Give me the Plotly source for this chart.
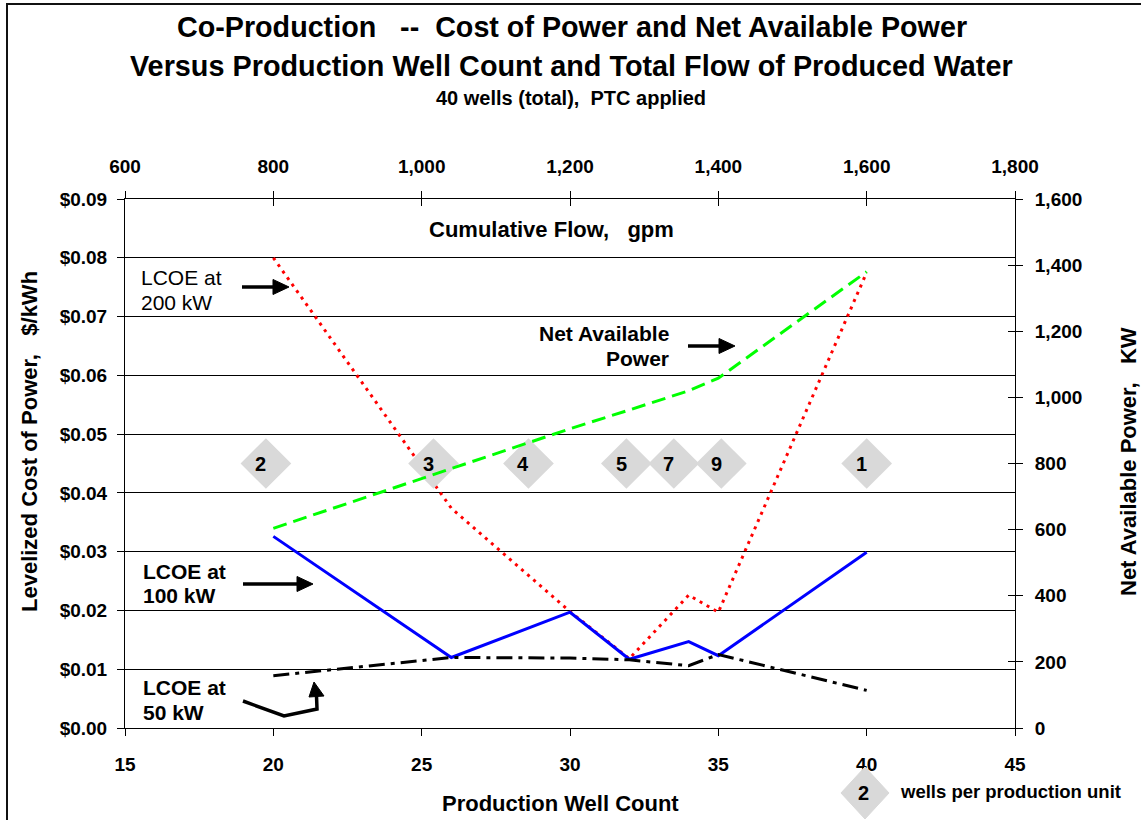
import plotly.graph_objects as go

# ---------------- data ----------------
well_count = [20, 26, 30, 32, 34, 35, 40]
cum_flow_gpm = [800, 1040, 1200, 1280, 1360, 1400, 1600]
lcoe_200kw = [0.0800, 0.0374, 0.0198, 0.0118, 0.0226, 0.0197, 0.0775]
lcoe_100kw = [0.0326, 0.0120, 0.0197, 0.0117, 0.0147, 0.0123, 0.0299]
lcoe_50kw = [0.0089, 0.0120, 0.0119, 0.0116, 0.0106, 0.0125, 0.0064]
net_power_kw = [604, 785, 905, 962, 1020, 1058, 1380]

unit_labels = ["2", "3", "4", "5", "7", "9", "1"]
unit_x = [19.75, 25.4, 28.6, 31.9, 33.5, 35.1, 40.0]
unit_y = [0.045, 0.045, 0.045, 0.045, 0.045, 0.045, 0.045]

# ---------------- layout helpers ----------------
W, H = 1141, 820
L, R, T, B = 125, 1015, 199, 728
FONT = "Liberation Sans, Arial, Helvetica, sans-serif"
NB = "\u00a0"


def px(x):
    return (x - L) / (R - L)


def py(y):
    return (B - y) / (B - T)


fig = go.Figure()

fig.add_trace(go.Scatter(x=well_count, y=lcoe_200kw, mode="lines",
                         line=dict(color="#FF0000", width=3, dash="3px,5px"),
                         name="LCOE at 200 kW", hoverinfo="x+y"))
fig.add_trace(go.Scatter(x=well_count, y=net_power_kw, mode="lines", yaxis="y2",
                         line=dict(color="#00FF00", width=3, dash="14px,7px"),
                         name="Net Available Power"))
fig.add_trace(go.Scatter(x=well_count, y=lcoe_100kw, mode="lines",
                         line=dict(color="#0000FF", width=3),
                         name="LCOE at 100 kW"))
fig.add_trace(go.Scatter(x=well_count, y=lcoe_50kw, mode="lines",
                         line=dict(color="#000000", width=3, dash="16px,6px,4px,6px"),
                         name="LCOE at 50 kW"))
fig.add_trace(go.Scatter(x=unit_x, y=unit_y, mode="markers",
                         marker=dict(symbol="diamond", size=39, color="#D9D9D9",
                                     line=dict(width=0)),
                         name="wells per production unit"))
# invisible trace defining the top (cumulative flow) axis
fig.add_trace(go.Scatter(x=cum_flow_gpm, y=[None] * len(cum_flow_gpm), xaxis="x2",
                         mode="markers", marker=dict(opacity=0), hoverinfo="skip",
                         showlegend=False))
# invisible traces for cross ticks
fig.add_trace(go.Scatter(x=cum_flow_gpm, y=[None] * len(cum_flow_gpm), xaxis="x3",
                         mode="markers", marker=dict(opacity=0), hoverinfo="skip",
                         showlegend=False))
fig.add_trace(go.Scatter(x=well_count, y=[None] * len(well_count), yaxis="y3",
                         mode="markers", marker=dict(opacity=0), hoverinfo="skip",
                         showlegend=False))

annotations = []
for xv, yv, lab in zip(unit_x, unit_y, unit_labels):
    annotations.append(dict(x=xv, y=yv, xref="x", yref="y", text=lab, showarrow=False,
                            xshift=-5, font=dict(family=FONT, size=20, color="black",
                                                 weight="bold")))


def text(x, y, s, size, bold=True, xanchor="left", angle=0):
    annotations.append(dict(x=px(x), y=py(y), xref="paper", yref="paper", text=s,
                            showarrow=False, xanchor=xanchor, yanchor="middle",
                            textangle=angle,
                            font=dict(family=FONT, size=size, color="black",
                                      weight="bold" if bold else "normal")))


# titles
text(572, 27, "Co-Production" + NB * 3 + "--" + NB * 2 + "Cost of Power and Net Available Power",
     28.7, xanchor="center")
text(571, 66, "Versus Production Well Count and Total Flow of Produced Water", 28.8,
     xanchor="center")
text(571, 98, "40 wells (total)," + NB * 2 + "PTC applied", 20, xanchor="center")

# axis titles
text(560, 803, "Production Well Count", 22, xanchor="center")
text(29, 442, "Levelized Cost of Power," + NB * 3 + "$/kWh", 22, xanchor="center", angle=-90)
text(1128, 462, "Net Available Power," + NB * 3 + "KW", 22, xanchor="center", angle=-90)
text(551, 229, "Cumulative Flow," + NB * 3 + "gpm", 22, xanchor="center")

# series labels
text(139, 277, "LCOE at", 21, bold=False)
text(139, 302, "200 kW", 21, bold=False)
text(141, 571, "LCOE at", 21)
text(141, 595, "100 kW", 21)
text(141, 687, "LCOE at", 21)
text(141, 712, "50 kW", 21)
text(671, 333, "Net Available", 21, xanchor="right")
text(671, 358, "Power", 21, xanchor="right")

# legend key label
text(863, 793, "2", 20, xanchor="center")
text(898, 791, "wells per production unit", 18.5)

shapes = []


def line(pts, width=3.5, color="black"):
    path = "M " + " L ".join(f"{px(a):.5f},{py(b):.5f}" for a, b in pts)
    shapes.append(dict(type="path", path=path, xref="paper", yref="paper",
                       line=dict(color=color, width=width)))


def poly(pts, color="black"):
    path = "M " + " L ".join(f"{px(a):.5f},{py(b):.5f}" for a, b in pts) + " Z"
    shapes.append(dict(type="path", path=path, xref="paper", yref="paper",
                       fillcolor=color, line=dict(color=color, width=1)))


def harrow(x0, x1, y):
    line([(x0, y), (x1 - 14, y)])
    poly([(x1 - 16, y - 7.5), (x1, y), (x1 - 16, y + 7.5)])


harrow(242, 289, 287)
harrow(243, 313, 584)
harrow(688, 735, 346)
# bent arrow for 50 kW
line([(243, 701), (284, 716), (317, 709), (316.5, 696)])
poly([(309, 697), (314, 682), (324, 696)])

# legend diamond key
poly([(865, 767), (889, 793), (865, 819), (841, 793)], color="#D9D9D9")

# outer chart frame
line([(7, 820), (7, 4), (1141, 4)], width=2, color="#111111")

tickfont = dict(family=FONT, size=19, color="black", weight="bold")
common = dict(showgrid=False, zeroline=False, showline=True, linecolor="black",
              linewidth=1, ticks="outside", ticklen=7, tickcolor="black", tickwidth=1,
              tickfont=tickfont)

fig.update_layout(
    width=W, height=H, autosize=False,
    margin=dict(l=L, r=W - R, t=T, b=H - B, pad=0),
    paper_bgcolor="white", plot_bgcolor="white",
    showlegend=False,
    font=dict(family=FONT, color="black"),
    xaxis=dict(range=[15, 45], tick0=15, dtick=5, ticklabelstandoff=12, **common),
    xaxis2=dict(range=[600, 1800], tick0=600, dtick=200, overlaying="x", side="top",
                anchor="y", tickformat=",", ticklabelstandoff=10, **common),
    xaxis3=dict(range=[600, 1800], tick0=600, dtick=200, overlaying="x", side="top",
                anchor="y", showticklabels=False, showgrid=False, zeroline=False,
                showline=False, ticks="inside", ticklen=7, tickcolor="black"),
    yaxis=dict(range=[0, 0.09], tick0=0, dtick=0.01, tickformat="$.2f",
               ticklabelstandoff=6, **{**common, "showgrid": True},
               gridcolor="black", gridwidth=1),
    yaxis2=dict(range=[0, 1600], tick0=0, dtick=200, overlaying="y", side="right",
                anchor="x", tickformat=",", ticklabelstandoff=8, **common),
    yaxis3=dict(range=[0, 1600], tick0=0, dtick=200, overlaying="y", side="right",
                anchor="x", showticklabels=False, showgrid=False, zeroline=False,
                showline=False, ticks="inside", ticklen=7, tickcolor="black"),
    annotations=annotations,
    shapes=shapes,
)

fig.write_html("out.html",
               config={"displayModeBar": False},
               post_script="document.body.style.margin='0px';"
                           "document.body.style.overflow='hidden';")
